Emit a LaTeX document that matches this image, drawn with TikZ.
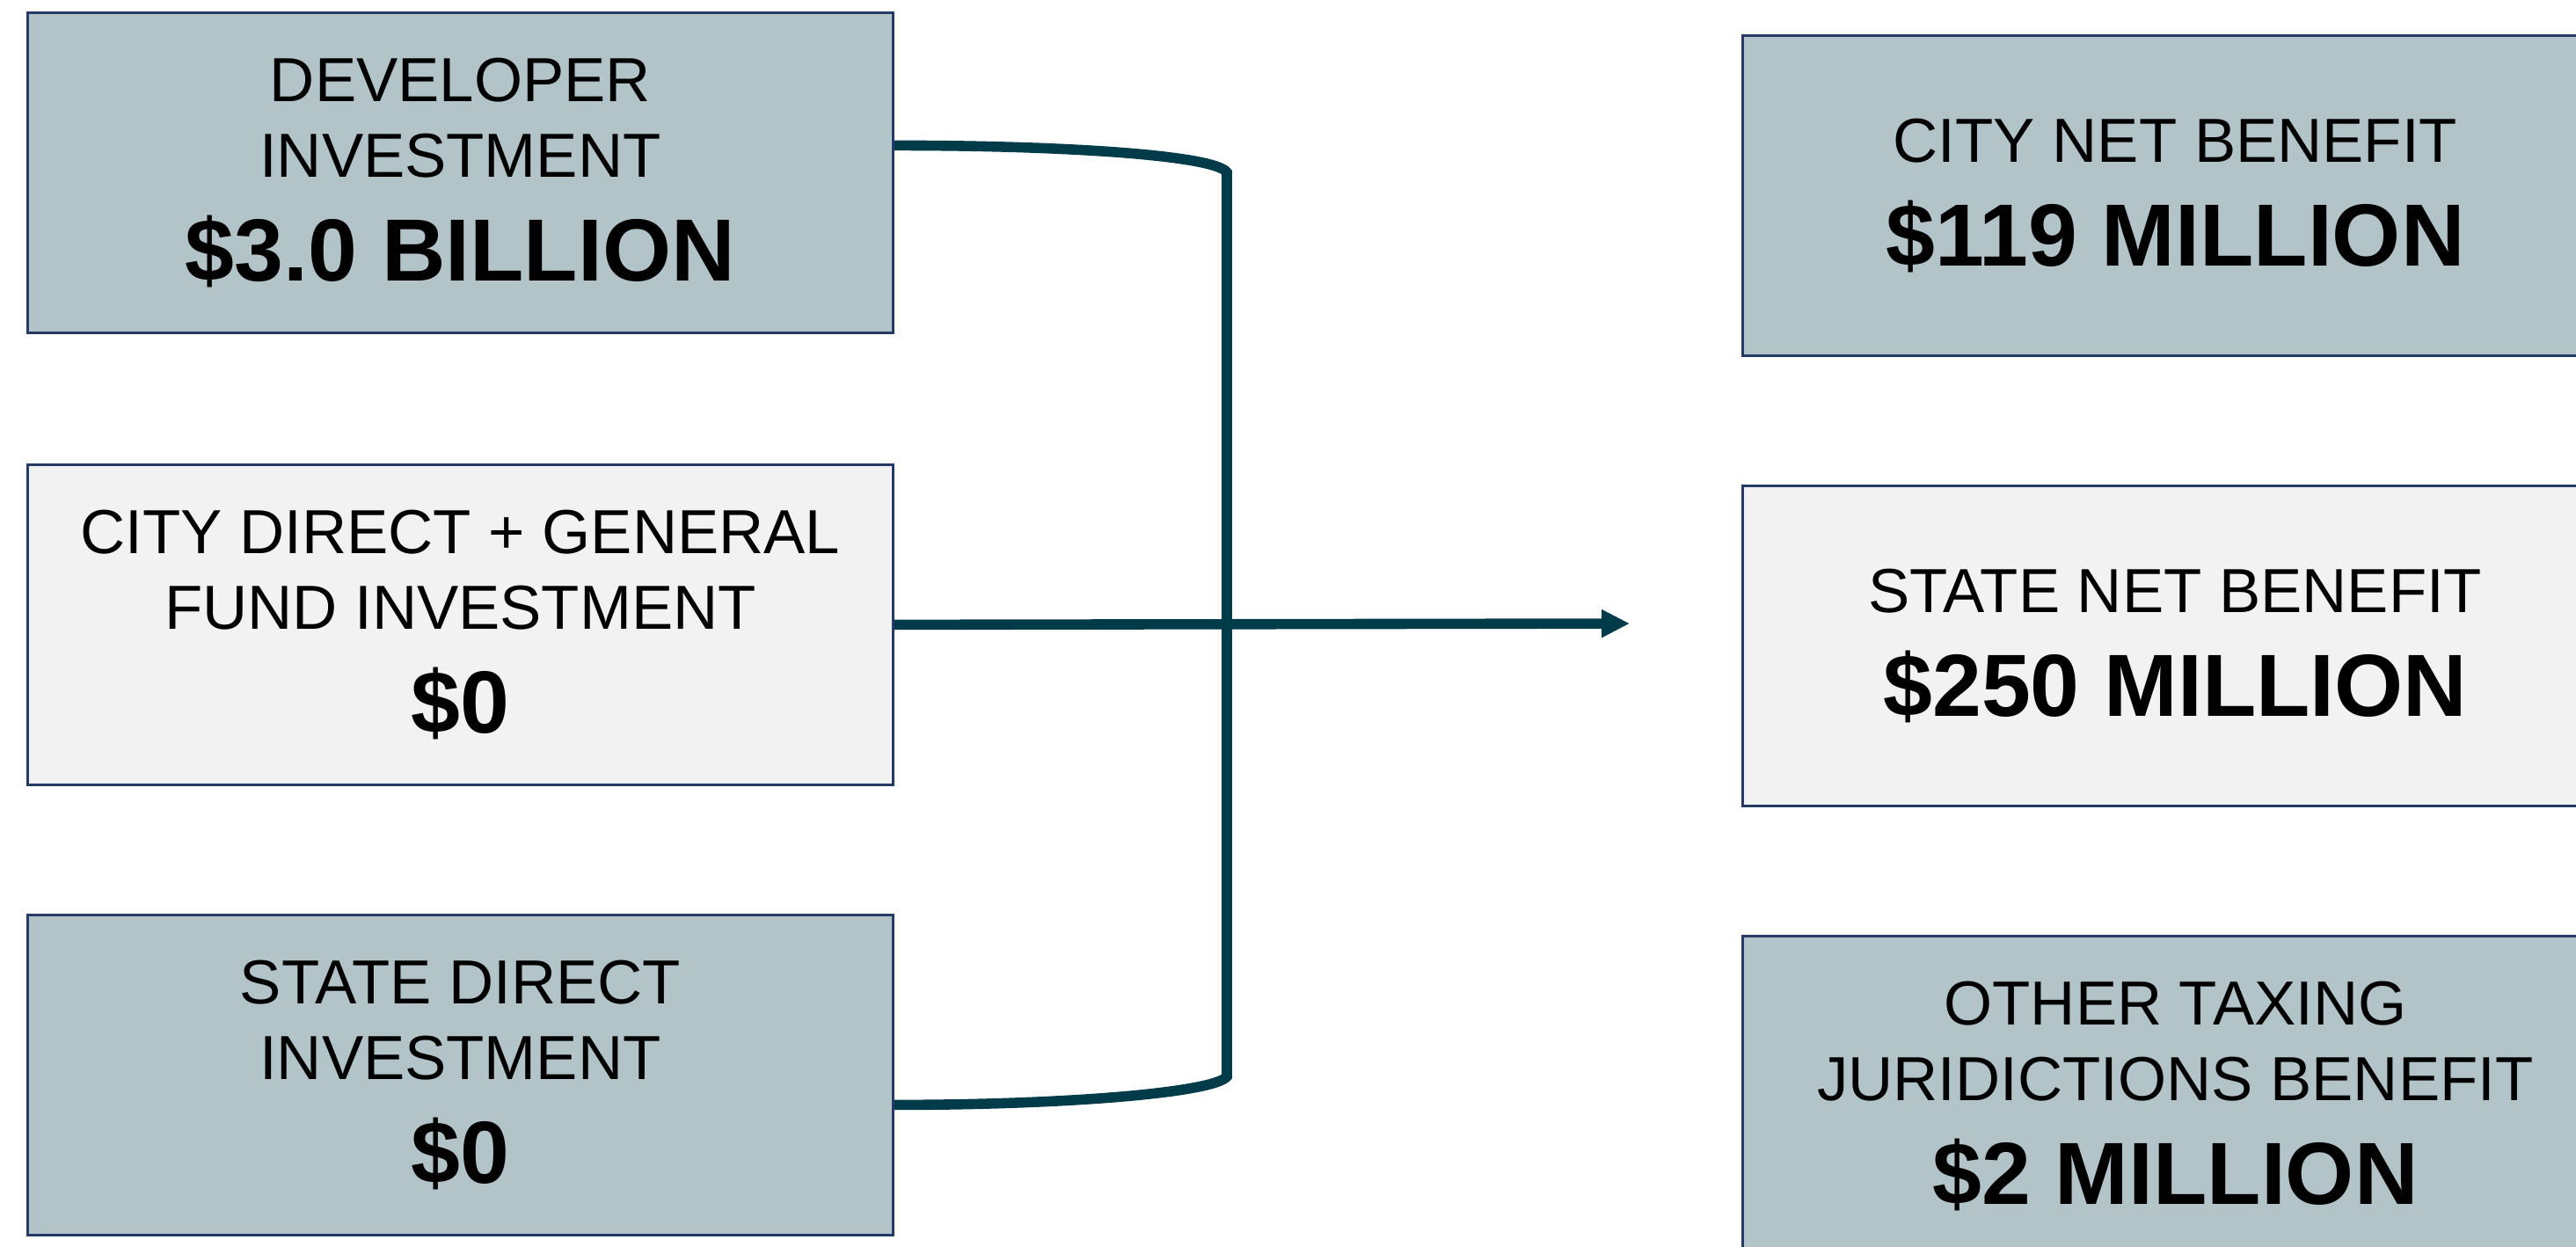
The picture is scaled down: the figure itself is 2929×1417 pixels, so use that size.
\documentclass[tikz,border=0pt]{standalone}
\usepackage{fontspec}
\setmainfont{Liberation Sans}
\usetikzlibrary{arrows.meta}
\definecolor{boxblue}{RGB}{179,196,201}
\definecolor{boxlight}{RGB}{242,242,242}
\definecolor{boxline}{RGB}{38,58,102}
\definecolor{conn}{RGB}{0,59,73}
\tikzset{
  panel/.style={draw=boxline, line width=0.7pt, minimum width=246pt, minimum height=91pt,
    inner sep=0pt, align=center, anchor=north west, font=\fontsize{17.7}{21.5}\selectfont},
  darkpanel/.style={panel, fill=boxblue},
  lightpanel/.style={panel, fill=boxlight},
  link/.style={draw=conn, line width=2.9pt},
}
\newcommand{\amount}[1]{\\[7.9pt]{\fontsize{25.1}{25.1}\selectfont\bfseries #1}}
\begin{document}
\begin{tikzpicture}[x=0.25pt, y=-0.25pt]
\useasboundingbox (0,0) rectangle (2929,1417);
\clip (0,0) rectangle (2929,1417);
\fill[white] (0,0) rectangle (2929,1417);
% left boxes
\node[darkpanel] (dev) at (30,13) {DEVELOPER\\INVESTMENT\amount{\$3.0 BILLION}};
\node[lightpanel] (fund) at (30,527) {CITY DIRECT + GENERAL\\FUND INVESTMENT\amount{\$0}};
\node[darkpanel] (state) at (30,1039) {STATE DIRECT\\INVESTMENT\amount{\$0}};
% right boxes
\node[darkpanel] (city) at (1980,39) {CITY NET BENEFIT\amount{\$119 MILLION}};
\node[lightpanel] (statenet) at (1980,551) {STATE NET BENEFIT\amount{\$250 MILLION}};
\node[darkpanel] (other) at (1980,1063) {OTHER TAXING\\JURIDICTIONS BENEFIT\amount{\$2 MILLION}};
% connectors
\coordinate (bt) at (1395,196);
\coordinate (bb) at (1395,1224);
\coordinate (tip) at (1853,709);
\draw[link] ([yshift=7.75pt]dev.east) .. controls +(50pt,0) and +(-3.25pt,4.75pt) .. (bt)
  -- (bb) .. controls +(-3.25pt,-4.5pt) and +(50pt,0) .. ([yshift=-8.5pt]state.east);
\draw[link, -{Triangle[length=8pt,width=7.5pt]}] (fund.east) -- (tip);
\end{tikzpicture}
\end{document}
